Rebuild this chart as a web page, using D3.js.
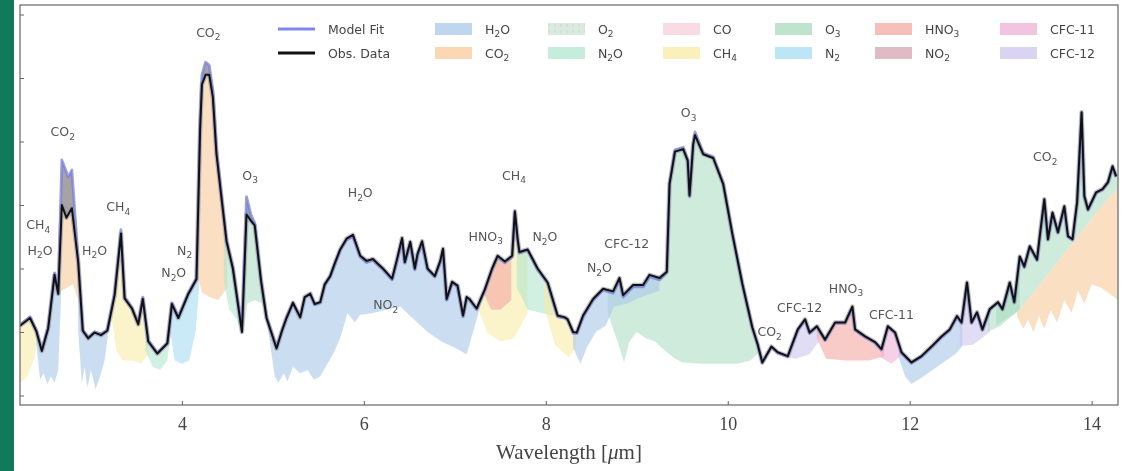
<!DOCTYPE html>
<html><head><meta charset="utf-8">
<script src="https://cdn.jsdelivr.net/npm/d3@7"></script>
<style>html,body{margin:0;padding:0;background:#fff;} svg{display:block; filter: blur(0.45px);}</style>
</head><body><svg id="c" width="1130" height="471"></svg>
<script>
// ---------- DATA ----------
const wavelength = [2.22,2.33,2.40,2.46,2.53,2.60,2.64,2.68,2.73,2.75,2.79,2.86,2.91,2.97,3.04,3.11,3.18,3.26,3.33,3.37,3.45,3.52,3.57,3.63,3.73,3.84,3.89,3.96,4.07,4.16,4.20,4.22,4.26,4.30,4.34,4.38,4.44,4.49,4.56,4.66,4.71,4.76,4.80,4.87,4.93,5.04,5.10,5.15,5.22,5.30,5.35,5.41,5.46,5.52,5.57,5.63,5.68,5.74,5.81,5.88,5.96,6.03,6.10,6.15,6.21,6.26,6.31,6.36,6.42,6.45,6.51,6.56,6.59,6.64,6.70,6.78,6.84,6.87,6.91,6.97,7.03,7.09,7.13,7.16,7.24,7.33,7.41,7.47,7.55,7.63,7.66,7.69,7.71,7.80,7.91,8.02,8.13,8.21,8.24,8.30,8.34,8.41,8.52,8.63,8.74,8.81,8.85,8.96,9.07,9.14,9.25,9.33,9.36,9.42,9.51,9.56,9.58,9.62,9.64,9.73,9.84,9.95,10.05,10.16,10.27,10.33,10.38,10.48,10.55,10.66,10.77,10.85,10.90,10.98,11.07,11.18,11.29,11.37,11.40,11.51,11.62,11.69,11.76,11.84,11.91,12.02,12.13,12.24,12.35,12.44,12.52,12.57,12.63,12.68,12.74,12.80,12.88,12.97,13.02,13.10,13.15,13.21,13.26,13.32,13.40,13.43,13.48,13.52,13.57,13.63,13.70,13.74,13.79,13.84,13.89,13.92,13.96,14.05,14.12,14.18,14.23,14.27];
const modelFit = [1.11,1.24,1.03,0.72,1.08,1.93,1.61,3.71,3.52,3.44,3.55,2.13,1.03,0.92,1.00,0.97,1.03,1.61,2.61,1.55,1.39,1.14,1.55,0.87,0.67,0.83,1.46,1.24,1.61,1.85,4.34,5.05,5.25,5.20,4.81,3.87,3.08,2.45,2.02,1.03,3.13,2.84,2.72,1.82,1.24,0.76,1.03,1.24,1.46,1.24,1.54,1.61,1.43,1.46,1.74,1.87,2.06,2.29,2.45,2.50,2.18,2.09,2.13,2.06,1.98,1.90,1.82,2.09,2.45,2.09,2.40,1.98,2.21,2.40,1.98,1.87,2.10,2.29,1.50,1.77,1.71,1.24,1.54,1.50,1.35,1.66,1.98,2.18,2.09,2.18,2.87,2.45,2.24,2.29,1.98,1.77,1.24,1.22,1.19,0.98,0.98,1.24,1.50,1.66,1.61,1.82,1.55,1.71,1.71,1.87,1.82,1.93,3.35,3.87,3.91,3.71,3.13,3.98,4.15,3.82,3.76,3.35,2.56,1.77,1.08,0.80,0.51,0.76,0.67,0.61,1.03,1.19,0.98,1.08,0.87,1.14,1.14,1.39,1.03,0.92,0.83,0.72,1.08,0.98,0.67,0.51,0.61,0.76,0.92,1.03,1.24,1.14,1.77,1.14,1.30,1.03,1.35,1.46,1.35,1.77,1.46,2.18,2.02,2.34,2.13,2.50,3.08,2.45,2.87,2.56,2.97,2.50,2.45,3.03,4.45,3.13,2.92,3.19,3.24,3.35,3.60,3.44];
const obsData = [1.10,1.22,1.01,0.70,1.06,1.90,1.60,3.00,2.80,2.85,2.95,2.10,1.02,0.90,0.99,0.95,1.02,1.58,2.55,1.53,1.37,1.12,1.52,0.85,0.66,0.82,1.44,1.22,1.60,1.83,4.20,4.90,5.05,5.05,4.70,3.80,3.05,2.43,2.00,1.00,2.85,2.75,2.68,1.80,1.22,0.74,1.02,1.22,1.46,1.23,1.55,1.60,1.44,1.47,1.75,1.88,2.08,2.30,2.47,2.53,2.20,2.12,2.15,2.08,2.00,1.92,1.84,2.12,2.48,2.10,2.42,2.00,2.23,2.43,2.00,1.88,2.12,2.31,1.52,1.79,1.73,1.26,1.55,1.52,1.37,1.67,2.00,2.20,2.11,2.20,2.90,2.47,2.26,2.30,2.00,1.78,1.26,1.23,1.20,1.00,0.99,1.26,1.52,1.68,1.64,1.85,1.58,1.74,1.74,1.90,1.85,1.95,3.33,3.84,3.88,3.70,3.15,3.95,4.10,3.80,3.74,3.33,2.55,1.76,1.07,0.80,0.52,0.77,0.68,0.62,1.04,1.20,0.99,1.09,0.88,1.15,1.15,1.40,1.04,0.93,0.84,0.73,1.09,0.99,0.68,0.52,0.62,0.77,0.93,1.04,1.25,1.15,1.78,1.15,1.31,1.04,1.36,1.47,1.36,1.78,1.47,2.19,2.03,2.35,2.14,2.51,3.09,2.46,2.88,2.57,2.98,2.51,2.46,3.04,4.46,3.14,2.93,3.20,3.25,3.36,3.61,3.45];

const xTicks = [4, 6, 8, 10, 12, 14];
const yTicks = [0, 1, 2, 3, 4, 5, 6];
const xDomain = [2.22, 14.29];
const yDomain = [-0.15, 6.15];

const gasNames  = ["H2O","CO2","O2","N2O","CO","CH4","O3","N2","HNO3","NO2","CFC-11","CFC-12"];
const gasLabels = ["H_2O","CO_2","O_2","N_2O","CO","CH_4","O_3","N_2","HNO_3","NO_2","CFC-11","CFC-12"];
const gasColors = ["#a8c8e8","#f9c99b","#cfe3d3","#b3e6cf","#f6cfd9","#f8eba5","#a8dbbd","#a6dcf2","#f4a9a3","#d6a3b0","#eeb0d6","#cdc6ee"];

// absorption bands: gas, wavelengths of lower edge, lower edge values (upper edge = model unless given)
const bandGas = ["CH4","H2O","CO2","H2O","CH4","N2O","N2","CO2","N2O","O3","H2O","CH4","HNO3","N2O","CH4","O3","H2O","CFC-12","HNO3","CFC-11","H2O","CFC-12","O3","O3","CO2"];
const bandLam = [
  [2.22,2.30,2.38,2.43],
  [2.40,2.44,2.48,2.52,2.56,2.60,2.64,2.67],
  [2.64,2.68,2.74,2.80,2.86,2.90],
  [2.86,2.90,2.93,2.96,3.00,3.05,3.10,3.15,3.20],
  [3.22,3.28,3.35,3.45,3.55,3.63],
  [3.60,3.68,3.76,3.84,3.88],
  [3.86,3.92,4.00,4.08,4.15,4.19],
  [4.18,4.22,4.30,4.40,4.50],
  [4.46,4.52,4.60,4.66],
  [4.67,4.72,4.80,4.88,4.93],
  [4.94,5.02,5.06,5.12,5.16,5.22,5.30,5.38,5.45,5.52,5.60,5.68,5.75,5.82,5.90,5.96,6.10,6.25,6.40,6.55,6.70,6.85,7.00,7.13,7.22,7.30],
  [7.25,7.35,7.50,7.65,7.80],
  [7.32,7.40,7.50,7.62],
  [7.68,7.80,7.95,8.10],
  [7.98,8.10,8.25,8.33],
  [8.68,8.80,8.86,8.92,9.00,9.10,9.20,9.30,9.40,9.50,9.70,9.90,10.10,10.25,10.36],
  [8.30,8.38,8.45,8.55,8.66,8.75,8.90,9.05,9.25],
  [10.66,10.75,10.90,11.00],
  [10.98,11.08,11.30,11.55,11.72],
  [11.68,11.80,11.90],
  [11.88,11.95,12.02,12.10,12.20,12.30,12.40,12.50,12.58],
  [12.55,12.70,12.88],
  [12.86,13.00,13.21],
  [12.95,13.21,13.50,13.80,14.05,14.29],
  [13.18,13.25,13.30,13.36,13.42,13.48,13.55,13.62,13.70,13.78,13.85,13.92,14.00,14.10,14.20,14.29]
];
const bandLow = [
  [0.20,0.30,0.60,1.00],
  [0.80,0.25,0.35,0.18,0.30,0.20,0.40,1.50],
  [1.70,1.65,1.70,1.75,1.50,1.00],
  [1.00,0.20,0.45,0.12,0.40,0.10,0.30,0.55,1.10],
  [1.30,0.70,0.55,0.55,0.50,0.65],
  [0.70,0.45,0.40,0.55,1.00],
  [1.10,0.55,0.50,0.55,1.00,1.70],
  [1.85,1.62,1.55,1.50,1.70],
  [1.80,1.35,1.20,0.95],
  [0.95,1.45,1.50,1.45,1.20],
  [1.10,0.30,0.20,0.35,0.22,0.45,0.35,0.40,0.25,0.30,0.50,0.70,0.95,1.30,1.15,1.27,1.30,1.35,1.40,1.20,1.00,0.85,0.75,0.65,1.10,1.50],
  [1.50,1.00,0.85,0.90,1.30],
  [1.60,1.35,1.35,1.50],
  [1.70,1.35,1.30,1.25],
  [1.40,0.80,0.60,0.75],
  [1.30,0.80,0.52,0.85,1.00,0.90,0.85,0.72,0.60,0.52,0.50,0.50,0.50,0.55,0.70],
  [0.75,0.50,0.75,1.00,1.10,1.40,1.45,1.55,1.65],
  [0.60,0.58,0.65,0.85],
  [0.90,0.58,0.55,0.55,0.62],
  [0.60,0.50,0.62],
  [0.60,0.30,0.18,0.25,0.35,0.45,0.55,0.65,0.78],
  [0.78,0.80,1.00],
  [1.00,1.10,1.35],
  [1.10,1.35,1.87,2.42,2.87,3.28],
  [1.25,1.05,1.20,1.00,1.25,1.05,1.35,1.15,1.50,1.30,1.65,1.45,1.75,1.70,1.60,1.50]
];
// optional explicit upper edges (null = model curve)
const bandTopLam = [null,null,null,null,null,null,null,null,null,null,null,null,null,null,null,null,null,null,null,null,null,null,null,null,[12.95,13.21,13.50,13.80,14.05,14.29]];
const bandTopVal = [null,null,null,null,null,null,null,null,null,null,null,null,null,null,null,null,null,null,null,null,null,null,null,null,[1.10,1.35,1.87,2.42,2.87,3.28]];

// molecule annotations (text, wavelength, value)
const annText = ["CO_2","CO_2","CH_4","H_2O","H_2O","CH_4","N_2","N_2O","O_3","H_2O","NO_2","CH_4","HNO_3","N_2O","CFC-12","N_2O","O_3","CO_2","CFC-12","HNO_3","CFC-11","CO_2"];
const annLam  = [4.29,2.69,2.42,2.44,3.04,3.30,4.03,3.91,4.75,5.96,6.24,7.65,7.34,7.99,8.89,8.59,9.57,10.46,10.79,11.30,11.80,13.49];
const annVal  = [5.72,4.15,2.69,2.29,2.29,2.97,2.29,1.93,3.47,3.19,1.43,3.47,2.51,2.50,2.40,2.01,4.45,1.00,1.39,1.69,1.27,3.76];

// ---------- DRAW ----------
const svg = d3.select("#c");
const x = d3.scaleLinear().domain(xDomain).range([20, 1118]);
const y = d3.scaleLinear().domain(yDomain).range([405, 5]);
const colorOf = d3.scaleOrdinal().domain(gasNames).range(gasColors);

svg.append("rect").attr("x",0).attr("y",0).attr("width",1130).attr("height",471).attr("fill","#fff");
svg.append("rect").attr("x",0).attr("y",0).attr("width",14).attr("height",471).attr("fill","#127a5b");

const defs = svg.append("defs");
defs.append("clipPath").attr("id","clip").append("rect")
  .attr("x",x.range()[0]).attr("y",y.range()[1]).attr("width",x.range()[1]-x.range()[0]).attr("height",y.range()[0]-y.range()[1]);
const pat = defs.append("pattern").attr("id","hatchO2").attr("patternUnits","userSpaceOnUse").attr("width",6).attr("height",6);
pat.append("rect").attr("width",6).attr("height",6).attr("fill",colorOf("O2"));
pat.append("line").attr("x1",3).attr("x2",3).attr("y1",0).attr("y2",3).attr("stroke","#b5d2be").attr("stroke-width",1);

function interp(xs, ys, v){
  if (v <= xs[0]) return ys[0];
  if (v >= xs[xs.length-1]) return ys[ys.length-1];
  const i = d3.bisectRight(xs, v);
  const t = (v - xs[i-1]) / (xs[i] - xs[i-1]);
  return ys[i-1] + t * (ys[i] - ys[i-1]);
}

const plot = svg.append("g").attr("clip-path","url(#clip)");
const area = d3.area().x(d=>x(d[0])).y0(d=>y(d[1])).y1(d=>y(d[2]));
bandGas.forEach((g,i)=>{
  const lam = bandLam[i], lo = bandLow[i];
  const a = lam[0], b = lam[lam.length-1];
  const tx = bandTopLam[i] || wavelength, ty = bandTopVal[i] || modelFit;
  let grid = lam.concat(wavelength.filter(w=>w>a && w<b));
  if (bandTopLam[i]) grid = grid.concat(bandTopLam[i].filter(w=>w>=a && w<=b));
  grid = Array.from(new Set(grid)).sort((p,q)=>p-q);
  const pts = grid.map(w=>{ const t = interp(tx,ty,w); return [w, Math.min(interp(lam,lo,w), t), t]; });
  plot.append("path").attr("d", area(pts)).attr("fill", colorOf(g)).attr("fill-opacity", g==="O3" ? 0.55 : 0.6).attr("stroke","none");
});

// residual band between observation and model
const resid = d3.area().x((d,i)=>x(wavelength[i])).y0((d,i)=>y(obsData[i])).y1(d=>y(d));
plot.append("path").attr("d", resid(modelFit)).attr("fill","#8b8d9c").attr("fill-opacity",0.75);

const line = d3.line().x((d,i)=>x(wavelength[i])).y(d=>y(d));
plot.append("path").attr("d", line(obsData)).attr("fill","none").attr("stroke","#8f909c").attr("stroke-width",4.5).attr("stroke-opacity",0.6).attr("stroke-linejoin","round");
plot.append("path").attr("d", line(modelFit)).attr("fill","none").attr("stroke","#7a80dc").attr("stroke-width",2.8).attr("stroke-opacity",0.75).attr("stroke-linejoin","round");
plot.append("path").attr("d", line(obsData)).attr("fill","none").attr("stroke","#111").attr("stroke-width",2).attr("stroke-linejoin","round");

// frame
svg.append("rect").attr("x",x.range()[0]).attr("y",y.range()[1]).attr("width",x.range()[1]-x.range()[0]).attr("height",y.range()[0]-y.range()[1])
  .attr("fill","none").attr("stroke","#666").attr("stroke-width",1.2);

// axes
const xAxis = d3.axisBottom(x).tickValues(xTicks).tickSizeInner(-4).tickSizeOuter(0).tickPadding(12).tickFormat(d3.format("d"));
const gx = svg.append("g").attr("transform",`translate(0,${y.range()[0]})`).call(xAxis);
gx.select(".domain").remove();
gx.selectAll("line").attr("stroke","#666");
gx.selectAll("text").attr("font-family","'Liberation Serif', 'DejaVu Serif', serif").attr("font-size",18).attr("fill","#444");
const yAxis = d3.axisLeft(y).tickValues(yTicks).tickSizeInner(-4).tickSizeOuter(0).tickFormat("");
const gy = svg.append("g").attr("transform",`translate(${x.range()[0]},0)`).call(yAxis);
gy.select(".domain").remove();
gy.selectAll("line").attr("stroke","#666");

const title = svg.append("text").attr("x",(x.range()[0]+x.range()[1])/2).attr("y",459).attr("text-anchor","middle")
  .attr("font-family","'Liberation Serif', 'DejaVu Serif', serif").attr("font-size",21).attr("fill","#444");
title.append("tspan").text("Wavelength [");
title.append("tspan").attr("font-style","italic").text("μ");
title.append("tspan").text("m]");

// subscript-aware text
function richText(sel, str, size){
  const parts = str.split(/_(\d)/);
  parts.forEach((p,k)=>{
    if (!p) return;
    if (k % 2 === 1) sel.append("tspan").attr("font-size", size*0.72).attr("dy", size*0.28).text(p);
    else {
      const t = sel.append("tspan").text(p);
      if (k > 0) t.attr("dy", -size*0.28);
    }
  });
}

// annotations
annText.forEach((s,i)=>{
  const t = svg.append("text").attr("x", x(annLam[i])).attr("y", y(annVal[i]) + 4.5).attr("text-anchor","middle")
    .attr("font-family","'DejaVu Sans', sans-serif").attr("font-size",12.5).attr("fill","#555");
  richText(t, s, 12.5);
});

// legend
const leg = svg.append("g").attr("font-family","'DejaVu Sans', sans-serif").attr("font-size",12.5).attr("fill","#444");
const rowY = [29, 53];
[["Model Fit","#7f86ee"],["Obs. Data","#111"]].forEach((d,r)=>{
  leg.append("line").attr("x1",278).attr("x2",315).attr("y1",rowY[r]).attr("y2",rowY[r]).attr("stroke",d[1]).attr("stroke-width",3);
  leg.append("text").attr("x",328).attr("y",rowY[r]+4.5).text(d[0]);
});
const colX = [435, 548, 663, 775, 875, 1000];
gasNames.forEach((g,i)=>{
  const c = Math.floor(i/2), r = i%2;
  leg.append("rect").attr("x",colX[c]).attr("y",rowY[r]-6).attr("width",37).attr("height",12)
    .attr("fill", g==="O2" ? "url(#hatchO2)" : colorOf(g)).attr("fill-opacity",0.75);
  const t = leg.append("text").attr("x",colX[c]+50).attr("y",rowY[r]+4.5);
  richText(t, gasLabels[i], 12.5);
});
</script></body></html>
